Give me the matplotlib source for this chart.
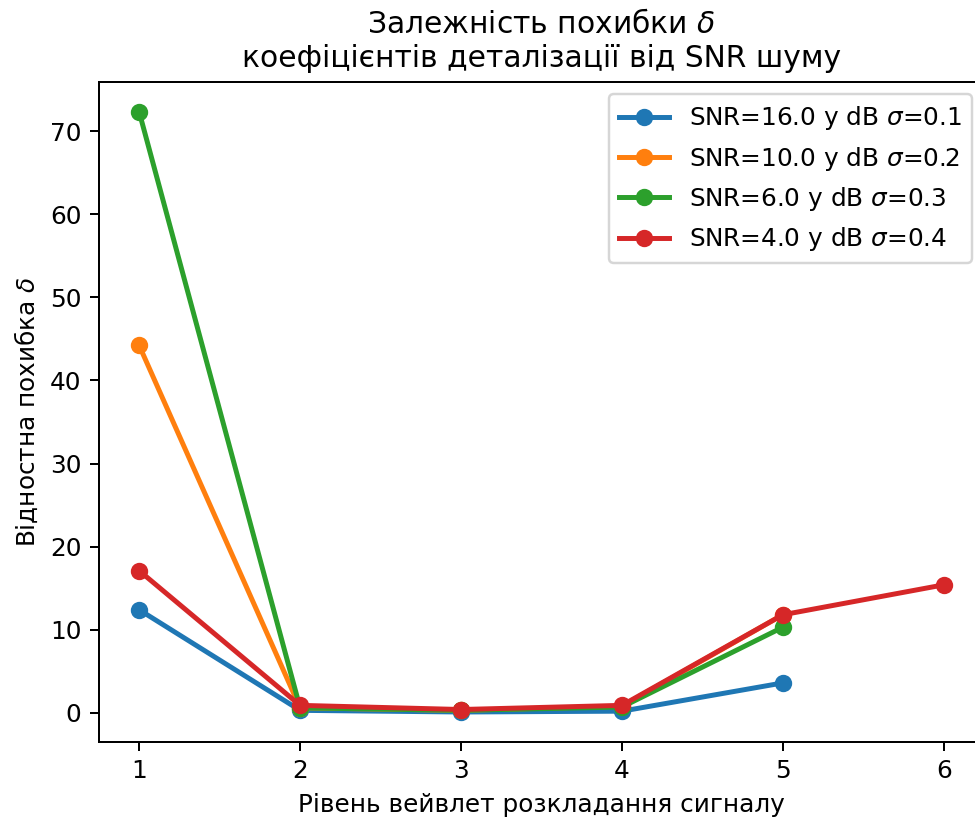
import matplotlib
matplotlib.use("Agg")
import matplotlib.pyplot as plt

# рівні розкладання та похибки для кожного SNR
levels_blue = [1, 2, 3, 4, 5]
err_blue = [12.4, 0.3, 0.1, 0.2, 3.6]

levels_orange = [1, 2, 3, 4, 5]
err_orange = [44.2, 0.6, 0.3, 0.8, 11.8]

levels_green = [1, 2, 3, 4, 5]
err_green = [72.3, 0.6, 0.3, 0.7, 10.3]

levels_red = [1, 2, 3, 4, 5, 6]
err_red = [17.1, 0.9, 0.4, 0.9, 11.8, 15.4]

labels = [
    r"SNR=16.0 у dB $\sigma$=0.1",
    r"SNR=10.0 у dB $\sigma$=0.2",
    r"SNR=6.0 у dB $\sigma$=0.3",
    r"SNR=4.0 у dB $\sigma$=0.4",
]

# скрін обрізаний справа, тому осі трохи виходять за межі
DPI = 178.5
fig = plt.figure(figsize=(975 / DPI, 818 / DPI), dpi=DPI)
ax = fig.add_axes([0.1015, 0.0929, 0.9077, 0.8069])

series = [
    (levels_blue, err_blue),
    (levels_orange, err_orange),
    (levels_green, err_green),
    (levels_red, err_red),
]
for (x, y), lab in zip(series, labels):
    ax.plot(x, y, marker='o', linewidth=2, label=lab)

ax.set_title("Залежність похибки $\\delta$\nкоефіцієнтів деталізації від SNR шуму", fontsize=12)
ax.set_xlabel("Рівень вейвлет розкладання сигналу")
ax.set_ylabel("Відностна похибка $\\delta$")
ax.legend(loc='upper right')

fig.savefig("out.png", dpi=DPI)
